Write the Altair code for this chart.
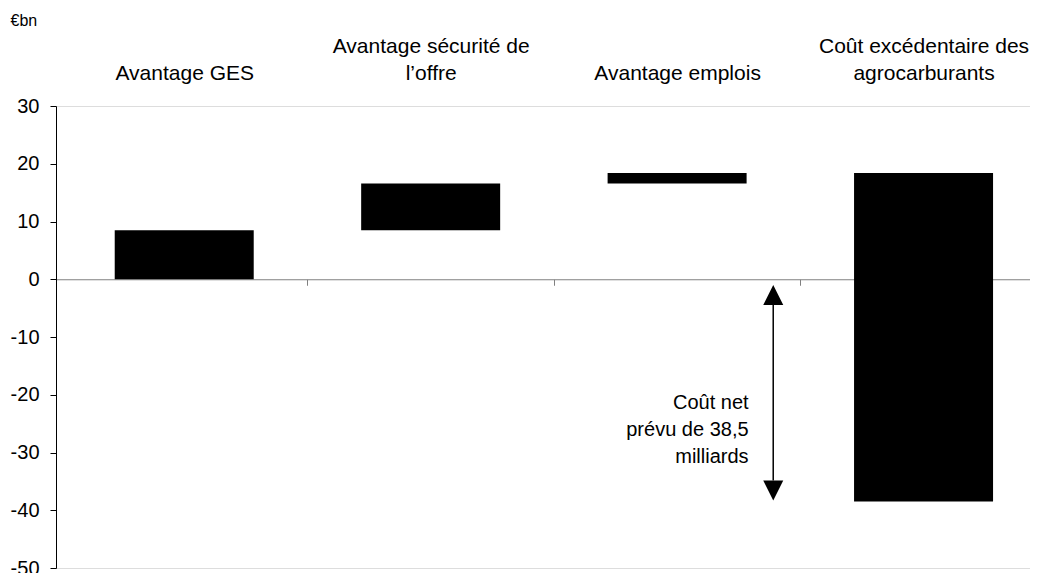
import json
import altair as alt
import pandas as pd

# ---- data ----
categories = [
    "|Avantage GES",
    "Avantage sécurité de|l’offre",
    "|Avantage emplois",
    "Coût excédentaire des|agrocarburants",
]
bar_start = [0.0, 8.5, 16.6, 18.4]
bar_end = [8.5, 16.6, 18.4, -38.5]
y_ticks = [30, 20, 10, 0, -10, -20, -30, -40, -50]
unit_label = "€bn"
note_lines = ["Coût net", "prévu de 38,5", "milliards"]
note_x = 2.29
note_y = -21.5
arrow_x = 2.39
arrow_from = -1.0
arrow_to = -38.3

# ---- layout ----
Y_MIN, Y_MAX = -50, 30
W, H = 974, 462
X_MIN = -0.5
X_MAX = X_MIN + W / 249.0
FONT = "Liberation Sans"
px_per_unit = H / (Y_MAX - Y_MIN)
zero_offset = -(H * (0 - Y_MIN) / (Y_MAX - Y_MIN))
head_px = 20
head_units = head_px / px_per_unit

idx = list(range(len(categories)))
df = pd.DataFrame({"idx": idx, "start": bar_start, "end": bar_end})

xs = alt.Scale(domain=[X_MIN, X_MAX], nice=False, zero=False)
ys = alt.Scale(domain=[Y_MIN, Y_MAX], nice=False, zero=False)

y_axis = alt.Axis(
    values=y_ticks,
    labelExpr="toString(datum.value)",
    title=unit_label,
    titleAngle=0,
    titleAlign="left",
    titleBaseline="alphabetic",
    titleX=-46,
    titleY=-81,
    titleFontSize=16,
    titleFontWeight="normal",
    titleFont=FONT,
    titleColor="black",
    labelFontSize=20,
    labelFont=FONT,
    labelColor="black",
    labelPadding=11,
    tickSize=6,
    tickColor="black",
    domainColor="black",
    grid=False,
)

label_expr = "split(" + json.dumps(categories, ensure_ascii=False) + "[datum.value], '|')"

bars = alt.Chart(df).mark_bar(color="black", size=139).encode(
    x=alt.X(
        "idx:Q",
        scale=xs,
        axis=alt.Axis(
            values=[i + 0.5 for i in idx],
            labels=False,
            title=None,
            grid=False,
            tickSize=6,
            tickColor="#808080",
            domainColor="#808080",
            domainWidth=1.2,
            offset=zero_offset,
        ),
    ),
    y=alt.Y("start:Q", scale=ys, axis=y_axis, title=unit_label),
    y2="end:Q",
)

header = alt.Chart(df).mark_point(opacity=0).encode(
    x=alt.X(
        "idx:Q",
        scale=xs,
        axis=alt.Axis(
            orient="top",
            values=idx,
            labelExpr=label_expr,
            domain=False,
            ticks=False,
            tickSize=0,
            labelPadding=50,
            labelFontSize=21,
            labelFont=FONT,
            labelColor="black",
            labelLineHeight=27,
            labelOverlap=False,
            labelFlush=False,
            labelBound=False,
            labelLimit=0,
            labelAlign="center",
            title=None,
            grid=False,
        ),
    ),
    y=alt.Y("start:Q", scale=ys, axis=y_axis, title=unit_label),
)

note_df = pd.DataFrame({"x": [note_x], "y": [note_y], "t": ["\n".join(note_lines)]})
note = alt.Chart(note_df).mark_text(
    align="right", baseline="middle", fontSize=20, font=FONT, lineHeight=27,
    lineBreak="\n", color="black",
).encode(
    x=alt.X("x:Q", scale=xs, axis=None),
    y=alt.Y("y:Q", scale=ys, axis=y_axis, title=unit_label),
    text="t:N",
)

arrow_df = pd.DataFrame({"x": [arrow_x], "y": [arrow_from - head_units], "y2": [arrow_to + head_units]})
arrow_line = alt.Chart(arrow_df).mark_rule(color="black", strokeWidth=1.5).encode(
    x=alt.X("x:Q", scale=xs, axis=None),
    y=alt.Y("y:Q", scale=ys, axis=y_axis, title=unit_label),
    y2="y2:Q",
)

heads_df = pd.DataFrame({
    "x": [arrow_x, arrow_x],
    "y": [arrow_from - head_units / 2, arrow_to + head_units / 2],
    "shape": ["M0,-1L1,1L-1,1Z", "M0,1L1,-1L-1,-1Z"],
})
heads = alt.Chart(heads_df).mark_point(
    filled=True, opacity=1, color="black", size=head_px ** 2, strokeWidth=0
).encode(
    x=alt.X("x:Q", scale=xs, axis=None),
    y=alt.Y("y:Q", scale=ys, axis=y_axis, title=unit_label),
    shape=alt.Shape("shape:N", scale=None),
)

chart = (
    alt.layer(bars, header, note, arrow_line, heads)
    .resolve_axis(x="independent")
    .properties(
        width=W,
        height=H,
        autosize=alt.AutoSizeParams(type="none"),
        padding={"left": 48, "top": 98, "right": 0, "bottom": 5},
    )
    .configure_view(stroke=None)
    .configure(font=FONT)
)

chart.save("out.html", embed_options={"renderer": "svg", "actions": False})
